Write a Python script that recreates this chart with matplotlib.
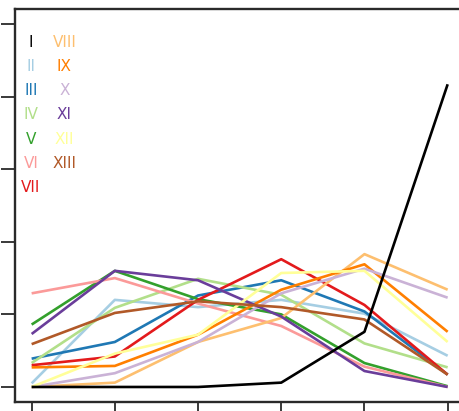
import matplotlib
matplotlib.use("Agg")
import matplotlib.pyplot as plt

# x positions and the thirteen series
x = [0, 1, 2, 3, 4, 5]
labels = ["I", "II", "III", "IV", "V", "VI", "VII",
          "VIII", "IX", "X", "XI", "XII", "XIII"]

s_I    = [0.00, 0.00, 0.00, 0.06, 0.76, 4.17]
s_II   = [0.05, 1.20, 1.10, 1.20, 1.01, 0.43]
s_III  = [0.39, 0.62, 1.26, 1.47, 1.04, 0.17]
s_IV   = [0.33, 1.09, 1.49, 1.27, 0.60, 0.27]
s_V    = [0.86, 1.60, 1.21, 1.00, 0.33, 0.01]
s_VI   = [1.29, 1.50, 1.15, 0.84, 0.28, 0.00]
s_VII  = [0.30, 0.42, 1.20, 1.76, 1.13, 0.17]
s_VIII = [0.00, 0.06, 0.62, 0.95, 1.83, 1.34]
s_IX   = [0.27, 0.29, 0.72, 1.34, 1.69, 0.76]
s_X    = [0.00, 0.19, 0.62, 1.29, 1.63, 1.23]
s_XI   = [0.73, 1.60, 1.47, 0.97, 0.22, 0.00]
s_XII  = [0.00, 0.46, 0.72, 1.57, 1.60, 0.62]
s_XIII = [0.59, 1.02, 1.18, 1.10, 0.93, 0.17]

series = [s_I, s_II, s_III, s_IV, s_V, s_VI, s_VII,
          s_VIII, s_IX, s_X, s_XI, s_XII, s_XIII]

colors = ["#000000", "#a6cee3", "#1f78b4", "#b2df8a", "#33a02c", "#fb9a99",
          "#e31a1c", "#fdbf6f", "#ff7f00", "#cab2d6", "#6a3d9a", "#ffff99",
          "#b15928"]

W, H = 460, 411
fig = plt.figure(figsize=(W / 100, H / 100), dpi=100)
# axes box in pixels: left 15, bottom edge at 401.5, top at 9.5, width 449.3
ax = fig.add_axes([15 / W, (H - 401.5) / H, 449.3 / W, 392 / H])

for i, (vals, c) in enumerate(zip(series, colors)):
    ax.plot(x, vals, color=c, lw=1.9, solid_capstyle="butt",
            zorder=3 if i == 0 else 2)

ax.set_xlim(-0.2, 5.2)
ax.set_ylim(-0.2, 5.2)
ax.set_xticks(x)
ax.set_yticks([0, 1, 2, 3, 4, 5])
ax.set_xticklabels([])
ax.set_yticklabels([])
ax.tick_params(length=10, width=1.3, color="#2a2a2a")
for sp in ax.spines.values():
    sp.set_color("#2a2a2a")
    sp.set_linewidth(1.7)
ax.spines["right"].set_visible(False)

# text-only key in two columns
col_x = [0.0356, 0.110]
row0, step = 0.917, 0.062
for k, (lab, c) in enumerate(zip(labels, colors)):
    col = 0 if k < 7 else 1
    row = k if k < 7 else k - 7
    ax.text(col_x[col], row0 - row * step, lab, color=c, fontsize=11,
            ha="center", va="center", transform=ax.transAxes)

fig.savefig("out.png", dpi=100)
